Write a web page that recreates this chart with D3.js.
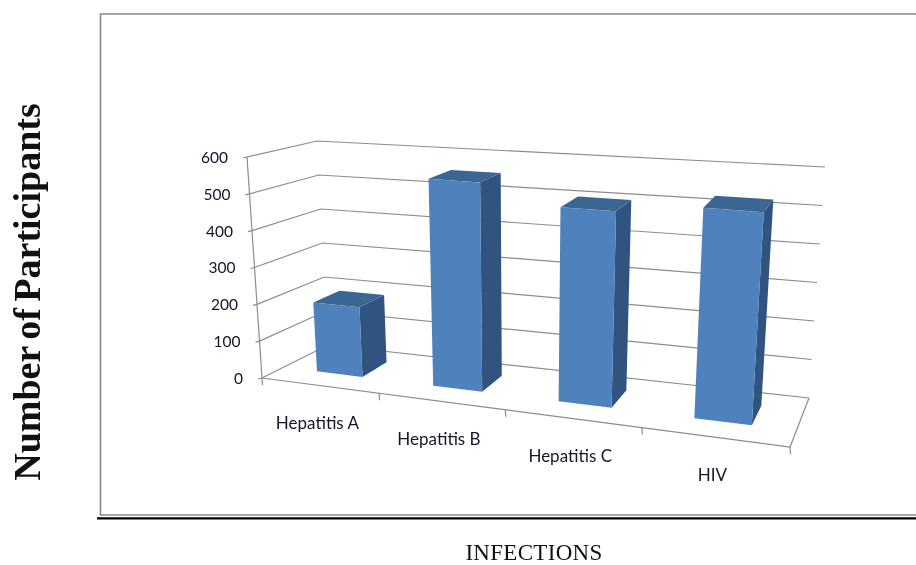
<!DOCTYPE html>
<html>
<head>
<meta charset="utf-8">
<script src="https://cdn.jsdelivr.net/npm/d3@7"></script>
<style>
  html, body { margin: 0; padding: 0; background: #fff; }
  svg { display: block; filter: blur(0.35px); }
</style>
</head>
<body>
<svg id="chart" width="916" height="565"></svg>
<script>
// Data
const categories = ["Hepatitis A", "Hepatitis B", "Hepatitis C", "HIV"];
const participants = [190, 555, 505, 530];
const yTicks = [0, 100, 200, 300, 400, 500, 600];

const svg = d3.select("#chart");

// Screen position of the 3D box corners: [front/back][bottom/top][left/right]
const box = {
  fbl: [262, 378], fbr: [790, 447],
  ftl: [247, 157], ftr: [806, 197],
  bbl: [328, 345], bbr: [809, 398],
  btl: [317, 141], btr: [825, 167]
};
const PERSPECTIVE = 1.17; // right side of the box is nearer than the left

const xScale = d3.scaleBand().domain(categories).range([0, 1])
  .paddingInner(0.6).paddingOuter(0.3);
const yScale = d3.scaleLinear().domain([0, 600]).range([0, 1]);
const BAR_DEPTH = [0.33, 0.74];

// u across, v up, w into the page, all 0..1
function project(u, v, w) {
  const t = u / (u + PERSPECTIVE * (1 - u));
  const mix = (a, b, k) => [a[0] + (b[0] - a[0]) * k, a[1] + (b[1] - a[1]) * k];
  const fb = mix(box.fbl, box.fbr, t), ft = mix(box.ftl, box.ftr, t);
  const bb = mix(box.bbl, box.bbr, t), bt = mix(box.btl, box.btr, t);
  return mix(mix(fb, ft, v), mix(bb, bt, v), w);
}

const GRID = "#8c8c8c";
const path = pts => "M" + pts.map(p => p.join(",")).join("L");
const poly = pts => path(pts) + "Z";

// Outer frame and rule under it
svg.append("path").attr("d", "M916,515H100.5V14H916")
  .attr("fill", "none").attr("stroke", "#8a8a8a").attr("stroke-width", 1.6);
svg.append("line").attr("x1", 97).attr("x2", 916).attr("y1", 518.3).attr("y2", 518.3)
  .attr("stroke", "#000").attr("stroke-width", 2.2);

// Gridlines on the side wall and back wall
const grid = svg.append("g").attr("fill", "none").attr("stroke", GRID).attr("stroke-width", 1.2);
grid.selectAll("path.wall").data(yTicks).join("path")
  .attr("class", "wall")
  .attr("d", d => path([project(0, yScale(d), 0), project(0, yScale(d), 1), project(1, yScale(d), 1)]));

// Value axis with small tick marks
grid.append("path").attr("d", path([project(0, 0, 0), project(0, 1, 0)]));
grid.selectAll("path.ytick").data(yTicks).join("path")
  .attr("class", "ytick")
  .attr("d", d => {
    const p = project(0, yScale(d), 0);
    return path([[p[0] - 4, p[1] + 1], p]);
  });

// Floor front and right edges, with category ticks
grid.append("path").attr("d", path([project(0, 0, 0), project(1, 0, 0), project(1, 0, 1)]));
grid.selectAll("path.xtick").data([0, 0.25, 0.5, 0.75, 1]).join("path")
  .attr("class", "xtick")
  .attr("d", d => {
    const p = project(d, 0, 0);
    return path([p, [p[0] + 0.5, p[1] + 7]]);
  });

// Bars, three faces each
const bars = svg.selectAll("g.bar")
  .data(categories.map((c, i) => ({ c, value: participants[i] })))
  .join("g").attr("class", "bar");

const corners = d => {
  const u0 = xScale(d.c), u1 = u0 + xScale.bandwidth();
  const v = yScale(d.value), [w0, w1] = BAR_DEPTH;
  return { u0, u1, v, w0, w1 };
};

bars.append("path").attr("fill", "#30537f").attr("d", d => {
  const { u1, v, w0, w1 } = corners(d);
  return poly([project(u1, 0, w0), project(u1, v, w0), project(u1, v, w1), project(u1, 0, w1)]);
});
bars.append("path").attr("fill", "#3b6592").attr("d", d => {
  const { u0, u1, v, w0, w1 } = corners(d);
  return poly([project(u0, v, w0), project(u1, v, w0), project(u1, v, w1), project(u0, v, w1)]);
});
bars.append("path").attr("fill", "#4f81bd").attr("d", d => {
  const { u0, u1, v, w0 } = corners(d);
  return poly([project(u0, 0, w0), project(u1, 0, w0), project(u1, v, w0), project(u0, v, w0)]);
});

// Tick labels
const LABEL_FONT = "Lato, 'Open Sans', sans-serif";
svg.selectAll("text.ylabel").data(yTicks).join("text")
  .attr("class", "ylabel")
  .attr("x", d => project(0, yScale(d), 0)[0] - 19)
  .attr("y", d => project(0, yScale(d), 0)[1] + 0.5)
  .attr("dy", "0.35em")
  .attr("text-anchor", "end")
  .attr("font-family", LABEL_FONT).attr("font-size", 15.5).attr("fill", "#14142a")
  .text(d => d);

svg.selectAll("text.xlabel").data(categories).join("text")
  .attr("class", "xlabel")
  .attr("x", d => project(xScale(d) + xScale.bandwidth() / 2, 0, 0)[0] - 2)
  .attr("y", d => project(xScale(d) + xScale.bandwidth() / 2, 0, 0)[1] + 38)
  .attr("dy", "0.35em")
  .attr("text-anchor", "middle")
  .attr("font-family", LABEL_FONT).attr("font-size", 17).attr("fill", "#14142a")
  .text(d => d);

// Axis titles
svg.append("text")
  .attr("transform", "translate(39.5,292) rotate(-90)")
  .attr("text-anchor", "middle")
  .attr("font-family", "'Liberation Serif', serif")
  .attr("font-size", 38).attr("font-weight", "bold").attr("word-spacing", -3).attr("fill", "#111")
  .text("Number of Participants");

svg.append("text")
  .attr("x", 534).attr("y", 560)
  .attr("text-anchor", "middle")
  .attr("font-family", "'Liberation Serif', serif")
  .attr("font-size", 23).attr("letter-spacing", 0.3).attr("fill", "#111")
  .text("INFECTIONS");
</script>
</body>
</html>
